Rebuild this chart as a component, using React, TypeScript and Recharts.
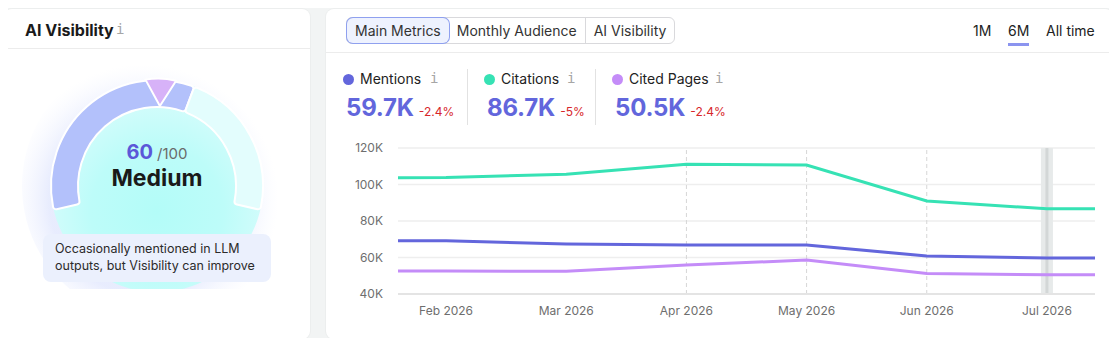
import React from "react";
import {
  LineChart,
  Line,
  XAxis,
  YAxis,
  CartesianGrid,
  ReferenceLine,
  ReferenceArea,
  PieChart,
  Pie,
  Cell,
} from "recharts";

const FONT = "Inter, 'Noto Sans', sans-serif";

// x positions: 1 = Feb 2026 ... 6 = Jul 2026, range edges sit 0.4 outside
const periods = [0.6, 1, 2, 3, 4, 5, 6, 6.4];
const monthTicks = [1, 2, 3, 4, 5, 6];
const monthLabels = ["Feb 2026", "Mar 2026", "Apr 2026", "May 2026", "Jun 2026", "Jul 2026"];
const mentions = [69200, 69200, 67400, 66800, 66800, 60800, 59700, 59700];
const citations = [103700, 103800, 105600, 111100, 110700, 91000, 86700, 86700];
const citedPages = [52600, 52600, 52400, 55900, 58600, 51300, 50500, 50500];
const yTicks = [40000, 60000, 80000, 100000, 120000];

const metricNames = ["Mentions", "Citations", "Cited Pages"];
const metricTotals = ["59.7K", "86.7K", "50.5K"];
const metricChanges = ["-2.4%", "-5%", "-2.4%"];
const metricColors = ["#6366dc", "#36e2b4", "#c48cf8"];
const metricLeft = [343, 484, 612];
const metricInfoLeft = [430, 567, 715];

const tabs = ["Main Metrics", "Monthly Audience", "AI Visibility"];
const ranges = ["1M", "6M", "All time"];

const visibilityScore = 60;
const benchmarkScore = 51;
const scoreMax = 100;

const chartData = periods.map((p, i) => ({
  p,
  mentions: mentions[i],
  citations: citations[i],
  citedPages: citedPages[i],
}));

const ringData = [
  { name: "score", value: visibilityScore },
  { name: "rest", value: scoreMax - visibilityScore },
];
const markerData = [
  { name: "before", value: benchmarkScore - 4 },
  { name: "marker", value: 8 },
  { name: "after", value: scoreMax - benchmarkScore - 4 },
];
const fullCircle = [{ value: 1 }];

const GAUGE_START = 193;
const GAUGE_END = -13;
const CX = 149;
const CY = 137;

const polar = (cx: number, cy: number, r: number, a: number) => {
  const rad = (a * Math.PI) / 180;
  return [cx + r * Math.cos(rad), cy - r * Math.sin(rad)];
};

// benchmark marker drawn as a wedge that narrows to a point on the inner edge
const renderMarker = (props: any) => {
  if (props.index !== 1) return <g key={props.index} />;
  const { cx, cy, innerRadius, outerRadius, startAngle, endAngle, midAngle } = props;
  const a0 = startAngle ?? midAngle + 8;
  const a1 = endAngle ?? midAngle - 8;
  const mid = (a0 + a1) / 2;
  const p1 = polar(cx, cy, outerRadius + 1, a0);
  const p2 = polar(cx, cy, outerRadius + 1, a1);
  const tip = polar(cx, cy, innerRadius + 1, mid);
  const pc = polar(cx, cy, outerRadius + 1, mid);
  return (
    <path
      key="marker"
      d={`M${tip[0]},${tip[1]} L${p1[0]},${p1[1]} Q${pc[0]},${pc[1] - 2} ${p2[0]},${p2[1]} Z`}
      fill="#d7b2f8"
      stroke="#ffffff"
      strokeWidth={2}
      strokeLinejoin="round"
    />
  );
};

const InfoIcon = ({ left, top }: { left: number; top: number }) => (
  <span
    style={{
      position: "absolute",
      left,
      top,
      fontFamily: "'DejaVu Sans Mono', monospace",
      fontSize: 14,
      color: "#a6a6a6",
    }}
  >
    i
  </span>
);

const Disk = ({ r0, r1, fill }: { r0: number; r1: number; fill: string }) => (
  <Pie
    data={fullCircle}
    dataKey="value"
    cx={CX}
    cy={CY}
    innerRadius={r0}
    outerRadius={r1}
    startAngle={90}
    endAngle={450}
    fill={fill}
    stroke="none"
    isAnimationActive={false}
  />
);

export default function App() {
  return (
    <div
      style={{
        position: "relative",
        margin: -8,
        width: 1117,
        height: 346,
        background: "#f2f4f4",
        fontFamily: FONT,
        overflow: "hidden",
      }}
    >
      {/* left card */}
      <div
        style={{
          position: "absolute",
          left: 4,
          top: 9,
          width: 306,
          height: 330,
          background: "#fff",
          borderRadius: 8,
          boxShadow: "0 0 0 1px #eceeee",
          overflow: "hidden",
        }}
      >
        <div style={{ position: "absolute", left: 21, top: 11, fontSize: 16, fontWeight: 700, color: "#1a1a1a" }}>
          AI Visibility
        </div>
        <InfoIcon left={112} top={12} />
        <div style={{ position: "absolute", left: 0, right: 0, top: 39, height: 1, background: "#ececec" }} />

        <div style={{ position: "absolute", left: 4, top: 40 }}>
          <PieChart width={302} height={240} margin={{ top: 0, right: 0, bottom: 0, left: 0 }}>
            <defs>
              <radialGradient id="halo" cx="45%" cy="55%" r="50%">
                <stop offset="0.7" stopColor="#e0e6fd" stopOpacity={0.75} />
                <stop offset="1" stopColor="#f1f4ff" stopOpacity={0} />
              </radialGradient>
              <radialGradient id="disk" cx="50%" cy="62%" r="52%">
                <stop offset="0" stopColor="#b3fcf8" />
                <stop offset="0.6" stopColor="#bdfcf9" />
                <stop offset="1" stopColor="#d3fcfb" />
              </radialGradient>
            </defs>
            <Disk r0={0} r1={135} fill="url(#halo)" />
            <Disk r0={0} r1={106} fill="url(#disk)" />
            <Pie
              data={ringData}
              dataKey="value"
              cx={CX}
              cy={CY}
              innerRadius={79}
              outerRadius={106}
              startAngle={GAUGE_START}
              endAngle={GAUGE_END}
              cornerRadius={3}
              stroke="#ffffff"
              strokeWidth={2}
              isAnimationActive={false}
            >
              <Cell fill="#b3c1fb" />
              <Cell fill="#e3fdfd" />
            </Pie>
            <Pie
              data={markerData}
              dataKey="value"
              cx={CX}
              cy={CY}
              innerRadius={79}
              outerRadius={106}
              startAngle={GAUGE_START}
              endAngle={GAUGE_END}
              fill="none"
              stroke="none"
              label={renderMarker}
              labelLine={false}
              isAnimationActive={false}
            />
          </PieChart>
        </div>

        <div
          style={{
            position: "absolute",
            left: 53,
            top: 133,
            width: 200,
            textAlign: "center",
            lineHeight: "20px",
            whiteSpace: "nowrap",
          }}
        >
          <span style={{ fontSize: 20, fontWeight: 700, color: "#5b57d8" }}>{visibilityScore}</span>
          <span style={{ fontSize: 15, color: "#6a6a6a", marginLeft: 4 }}>/{scoreMax}</span>
        </div>
        <div
          style={{
            position: "absolute",
            left: 53,
            top: 158,
            width: 200,
            textAlign: "center",
            lineHeight: "23px",
            fontSize: 23,
            fontWeight: 700,
            color: "#1a1a1a",
          }}
        >
          Medium
        </div>

        <div
          style={{
            position: "absolute",
            left: 39,
            top: 225,
            width: 228,
            height: 48,
            background: "#ebf0fd",
            borderRadius: 8,
            boxSizing: "border-box",
            padding: "7px 12px",
            fontSize: 12.5,
            lineHeight: "16.5px",
            color: "#2b2b2b",
          }}
        >
          Occasionally mentioned in LLM outputs, but Visibility can improve
        </div>
      </div>

      {/* right card */}
      <div
        style={{
          position: "absolute",
          left: 326,
          top: 9,
          width: 787,
          height: 330,
          background: "#fff",
          borderRadius: 8,
          boxShadow: "0 0 0 1px #eceeee",
        }}
      >
        <div
          style={{
            position: "absolute",
            left: 20,
            top: 8,
            height: 27,
            display: "flex",
            border: "1px solid #d9d9dc",
            borderRadius: 6,
            boxSizing: "border-box",
            fontSize: 14,
            color: "#333",
          }}
        >
          {tabs.map((t, i) => (
            <div
              key={t}
              style={{
                padding: "0 8px",
                lineHeight: "25px",
                borderLeft: i > 1 ? "1px solid #d9d9dc" : "none",
                background: i === 0 ? "#eef2fe" : "transparent",
                boxShadow: i === 0 ? "0 0 0 1px #8fa0ef" : "none",
                borderRadius: i === 0 ? 6 : 0,
              }}
            >
              {t}
            </div>
          ))}
        </div>
        {ranges.map((r, i) => (
          <div
            key={r}
            style={{
              position: "absolute",
              left: [647, 682, 720][i],
              top: 13,
              fontSize: 14,
              color: "#222",
            }}
          >
            {r}
          </div>
        ))}
        <div style={{ position: "absolute", left: 682, top: 34, width: 21, height: 3, background: "#8b94ef" }} />
        <div style={{ position: "absolute", left: 0, right: 0, top: 43, height: 1, background: "#ececec" }} />

        {metricNames.map((name, i) => (
          <React.Fragment key={name}>
            <div
              style={{
                position: "absolute",
                left: metricLeft[i] - 326,
                top: 65,
                width: 11,
                height: 11,
                borderRadius: "50%",
                background: metricColors[i],
              }}
            />
            <div style={{ position: "absolute", left: metricLeft[i] - 326 + 17, top: 61, fontSize: 14, color: "#222" }}>
              {name}
            </div>
            <InfoIcon left={metricInfoLeft[i] - 326} top={61} />
            <div
              style={{
                position: "absolute",
                left: metricLeft[i] - 326 + 3,
                top: 84,
                fontSize: 24,
                fontWeight: 700,
                color: "#6266dc",
                letterSpacing: -0.2,
              }}
            >
              {metricTotals[i]}
              <span style={{ fontSize: 12, fontWeight: 400, color: "#d7262b", marginLeft: 5, letterSpacing: 0 }}>
                {metricChanges[i]}
              </span>
            </div>
          </React.Fragment>
        ))}
        <div style={{ position: "absolute", left: 141, top: 60, width: 1, height: 56, background: "#e2e2e2" }} />
        <div style={{ position: "absolute", left: 269, top: 60, width: 1, height: 56, background: "#e2e2e2" }} />

        <div style={{ position: "absolute", left: 4, top: 126 }}>
          <LineChart width={780} height={200} data={chartData} margin={{ top: 13, right: 15, bottom: 11, left: 0 }}>
            <CartesianGrid vertical={false} stroke="#eeeeee" strokeWidth={1.5} />
            <XAxis
              dataKey="p"
              type="number"
              domain={[0.6, 6.4]}
              ticks={monthTicks}
              tickFormatter={(v: number) => monthLabels[v - 1]}
              axisLine={{ stroke: "#e4e4e4", strokeWidth: 2 }}
              tickLine={false}
              tickMargin={6}
              height={30}
              tick={{ fill: "#6e6e6e", fontSize: 12, fontFamily: FONT }}
            />
            <YAxis
              domain={[40000, 120000]}
              ticks={yTicks}
              tickFormatter={(v: number) => `${v / 1000}K`}
              axisLine={false}
              tickLine={false}
              tickMargin={9}
              width={68}
              tick={{ fill: "#6e6e6e", fontSize: 12, fontFamily: FONT }}
            />
            {[3, 4, 5].map((m) => (
              <ReferenceLine key={m} x={m} stroke="#d6d6d6" strokeDasharray="4 3" />
            ))}
            <ReferenceArea x1={5.95} x2={6.05} fill="#e7eaea" fillOpacity={1} stroke="none" />
            <ReferenceLine x={6} stroke="#d3d7d7" strokeWidth={3} />
            <Line
              dataKey="citations"
              stroke={metricColors[1]}
              strokeWidth={3}
              dot={false}
              type="linear"
              isAnimationActive={false}
            />
            <Line
              dataKey="mentions"
              stroke={metricColors[0]}
              strokeWidth={3}
              dot={false}
              type="linear"
              isAnimationActive={false}
            />
            <Line
              dataKey="citedPages"
              stroke={metricColors[2]}
              strokeWidth={3}
              dot={false}
              type="linear"
              isAnimationActive={false}
            />
          </LineChart>
        </div>
      </div>
    </div>
  );
}
